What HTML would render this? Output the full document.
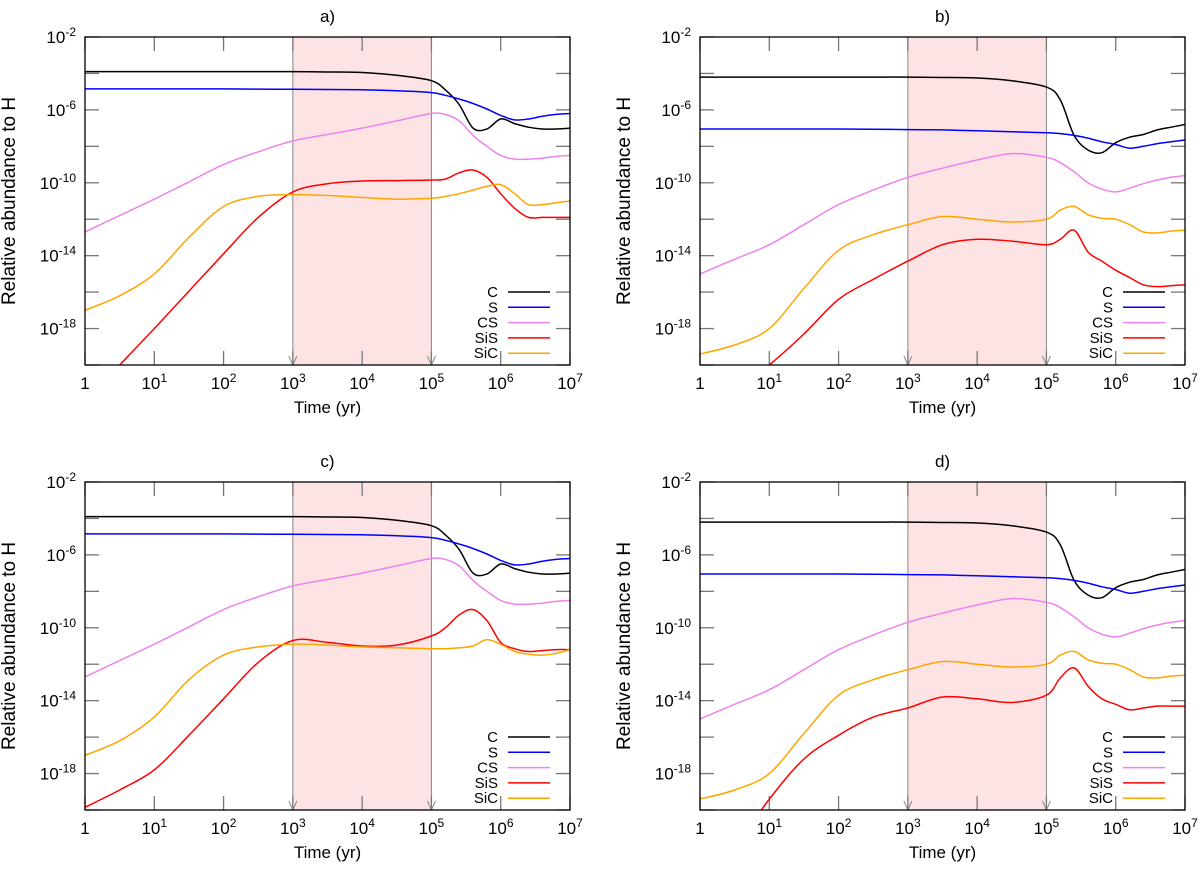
<!DOCTYPE html>
<html><head><meta charset="utf-8"><style>
body{margin:0;background:#fff}
svg text{font-family:"Liberation Sans",sans-serif;fill:#000}
</style></head><body>
<svg id="chart" width="1200" height="869" xmlns="http://www.w3.org/2000/svg"></svg>
<script>
const T = [0,0.5,1,1.5,2,2.5,3,3.5,4,4.5,5,5.2,5.4,5.6,5.8,6,6.2,6.4,6.6,6.8,7];
const speciesNames = ["C","S","CS","SiS","SiC"];
const speciesColors = ["#000000","#0000ff","#ee82ee","#ff0000","#ffa500"];
const panelTitles = ["a)","b)","c)","d)"];
const xTickLabels = ["1","10","10","10","10","10","10","10"];
const yTickExps = [-2,-6,-10,-14,-18];
// log10 abundance at log10 time T
const aC  = [-3.9,-3.9,-3.9,-3.9,-3.9,-3.9,-3.9,-3.92,-3.95,-4.1,-4.4,-4.9,-5.7,-7.0,-7.05,-6.5,-6.75,-6.95,-7.05,-7.05,-7.0];
const aS  = [-4.85,-4.85,-4.85,-4.85,-4.85,-4.86,-4.87,-4.88,-4.9,-4.95,-5.05,-5.2,-5.4,-5.65,-5.95,-6.3,-6.55,-6.5,-6.35,-6.25,-6.2];
const aCS = [-12.7,-11.8,-10.9,-9.95,-9.0,-8.3,-7.7,-7.35,-7.0,-6.6,-6.2,-6.25,-6.6,-7.4,-8.0,-8.5,-8.7,-8.7,-8.65,-8.55,-8.5];
const aSiS= [-22.0,-20.0,-18.0,-15.95,-13.9,-11.9,-10.5,-10.05,-9.9,-9.88,-9.85,-9.8,-9.45,-9.3,-9.7,-10.6,-11.4,-11.9,-11.9,-11.9,-11.9];
const aSiC= [-17.0,-16.2,-15.0,-13.0,-11.3,-10.75,-10.65,-10.7,-10.8,-10.9,-10.85,-10.75,-10.6,-10.4,-10.2,-10.1,-10.6,-11.2,-11.2,-11.1,-11.0];
const bC  = [-4.2,-4.2,-4.2,-4.2,-4.2,-4.2,-4.2,-4.22,-4.25,-4.4,-4.75,-5.45,-7.4,-8.2,-8.35,-7.8,-7.5,-7.35,-7.1,-6.95,-6.8];
const bS  = [-7.05,-7.05,-7.05,-7.05,-7.05,-7.06,-7.08,-7.1,-7.15,-7.2,-7.25,-7.3,-7.4,-7.55,-7.75,-7.9,-8.1,-8.0,-7.85,-7.75,-7.65];
const bCS = [-15.0,-14.2,-13.4,-12.3,-11.2,-10.4,-9.7,-9.2,-8.75,-8.4,-8.6,-8.9,-9.4,-10.0,-10.35,-10.5,-10.3,-10.05,-9.85,-9.7,-9.6];
const bSiS= [-23,-21.5,-20.0,-18.3,-16.4,-15.3,-14.3,-13.4,-13.1,-13.2,-13.4,-13.1,-12.6,-13.8,-14.3,-14.8,-15.2,-15.6,-15.7,-15.65,-15.6];
const bSiC= [-19.4,-18.9,-18.0,-15.8,-13.7,-12.85,-12.3,-11.85,-12.0,-12.15,-12.0,-11.5,-11.3,-11.75,-11.95,-12.0,-12.3,-12.7,-12.75,-12.65,-12.6];
const cC  = aC.slice();
const cS  = aS.slice();
const cCS = aCS.slice();
const cSiS= [-19.85,-18.9,-17.8,-15.9,-13.9,-11.9,-10.7,-10.8,-11.0,-10.95,-10.45,-10.0,-9.3,-9.0,-9.6,-10.8,-11.15,-11.3,-11.25,-11.2,-11.2];
const cSiC= [-17.0,-16.2,-14.9,-12.85,-11.5,-11.05,-10.9,-10.95,-11.05,-11.1,-11.15,-11.15,-11.1,-11.0,-10.65,-10.9,-11.3,-11.45,-11.5,-11.4,-11.2];
const dC  = bC.slice();
const dS  = bS.slice();
const dCS = bCS.slice();
const dSiS= [-23,-22,-19.4,-17.2,-15.9,-14.9,-14.4,-13.8,-13.9,-14.1,-13.7,-12.75,-12.2,-13.2,-13.9,-14.2,-14.5,-14.4,-14.3,-14.3,-14.3];
const dSiC= bSiC.slice();
const panelData = [[aC,aS,aCS,aSiS,aSiC],[bC,bS,bCS,bSiS,bSiC],[cC,cS,cCS,cSiS,cSiC],[dC,dS,dCS,dSiS,dSiC]];

const svg = document.getElementById('chart');
const NS = 'http://www.w3.org/2000/svg';
function mk(tag, attrs, parent){const e=document.createElementNS(NS,tag);for(const k in attrs)e.setAttribute(k,attrs[k]);(parent||svg).appendChild(e);return e;}
const origins = [[85,37],[700,37],[85,482],[700,482]];
const W = 485, H = 328;
function smoothPath(pts){
  let d = 'M'+pts[0][0].toFixed(1)+','+pts[0][1].toFixed(1);
  for(let i=0;i<pts.length-1;i++){
    const p0=pts[Math.max(0,i-1)],p1=pts[i],p2=pts[i+1],p3=pts[Math.min(pts.length-1,i+2)];
    const c1=[p1[0]+(p2[0]-p0[0])/6,p1[1]+(p2[1]-p0[1])/6];
    const c2=[p2[0]-(p3[0]-p1[0])/6,p2[1]-(p3[1]-p1[1])/6];
    d+=' C'+c1[0].toFixed(1)+','+c1[1].toFixed(1)+' '+c2[0].toFixed(1)+','+c2[1].toFixed(1)+' '+p2[0].toFixed(1)+','+p2[1].toFixed(1);
  }
  return d;
}
panelData.forEach((series,pi)=>{
  const [x0,y0]=origins[pi];
  const xs = v => x0 + v/7*W;
  const ys = v => y0 + (-2 - v)/18*H;
  const g = mk('g',{});
  
  
  const clipId='clip'+pi;
  const cp=mk('clipPath',{id:clipId},g);
  mk('rect',{x:x0,y:y0,width:W,height:H},cp);
  const shade=mk('rect',{x:xs(3),y:y0,width:xs(5)-xs(3),height:H,fill:'#fde3e4'},g);
  
  
  [3,5].forEach(v=>{
    mk('line',{x1:xs(v),y1:y0,x2:xs(v),y2:y0+H,stroke:'#888','stroke-width':1},g);
    mk('path',{d:`M${xs(v)-4},${y0+H-9} L${xs(v)},${y0+H} L${xs(v)+4},${y0+H-9}`,fill:'none',stroke:'#888','stroke-width':1},g);
  });
  for(let k=0;k<=7;k++){
    const x=xs(k);
    mk('line',{x1:x,y1:y0,x2:x,y2:y0+14,stroke:'#777','stroke-width':1.3},g);
    mk('line',{x1:x,y1:y0+H,x2:x,y2:y0+H-14,stroke:'#777','stroke-width':1.3},g);
    const t=mk('text',{x:x,y:y0+H+24,'font-size':17,'text-anchor':'middle'},g);
    
    
    if(k===0){t.textContent='1';}
    else{t.textContent=xTickLabels[k];const s=mk('tspan',{'font-size':12,dy:-7},t);s.textContent=String(k);}
  }
  for(let e=-2;e>=-20;e-=2){
    const y=ys(e);
    mk('line',{x1:x0,y1:y,x2:x0+14,y2:y,stroke:'#777','stroke-width':1.3},g);
    mk('line',{x1:x0+W,y1:y,x2:x0+W-14,y2:y,stroke:'#777','stroke-width':1.3},g);
  }
  yTickExps.forEach(e=>{
    const t=mk('text',{x:x0-9,y:ys(e)+6,'font-size':17,'text-anchor':'end'},g);
    
    
    t.textContent='10';
    const s=mk('tspan',{'font-size':12,dy:-7},t);s.textContent=String(e);
  });
  const sg=mk('g',{'clip-path':`url(#${clipId})`},g);
  series.forEach((arr,si)=>{
    const pts=T.map((t,i)=>[xs(t),ys(arr[i])]);
    const p=mk('path',{d:smoothPath(pts),fill:'none',stroke:speciesColors[si],'stroke-width':1.5},sg);
    
    
  });
  speciesNames.forEach((n,si)=>{
    const ly=y0+H-73+si*15.3;
    const t=mk('text',{x:x0+W-72,y:ly+5,'font-size':15,'text-anchor':'end'},g);
    
    
    t.textContent=n;
    const l=mk('line',{x1:x0+W-62,y1:ly,x2:x0+W-20,y2:ly,stroke:speciesColors[si],'stroke-width':1.5},g);
    
    
  });
  mk('rect',{x:x0,y:y0,width:W,height:H,fill:'none',stroke:'#000','stroke-width':1.3},g);
  const tt=mk('text',{x:x0+W/2,y:y0-15,'font-size':17,'text-anchor':'middle'},g);
  
  
  tt.textContent=panelTitles[pi];
  const xl=mk('text',{x:x0+W/2,y:y0+H+48,'font-size':17,'text-anchor':'middle'},g);
  
  
  xl.textContent='Time (yr)';
  const yl=mk('text',{x:0,y:0,'font-size':19,'text-anchor':'middle',transform:`translate(${x0-70},${y0+H/2}) rotate(-90)`},g);
  
  
  yl.textContent='Relative abundance to H';
});
</script>
</body></html>
